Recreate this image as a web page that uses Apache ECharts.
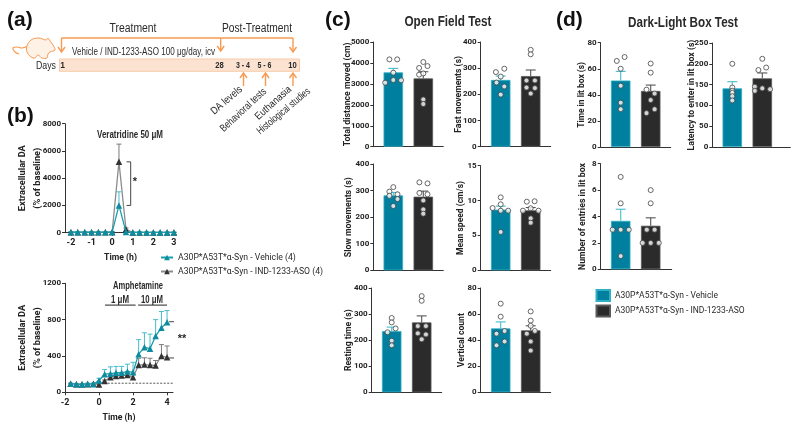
<!DOCTYPE html>
<html><head><meta charset="utf-8">
<style>html,body{margin:0;padding:0;background:#fff}#c{width:792px;height:425px}</style>
<script src="https://cdn.jsdelivr.net/npm/echarts@6/dist/echarts.min.js"></script>
</head><body><div id="c"></div>
<script>
// ---------- data ----------
const veraTime = [-2,-1.67,-1.33,-1,-0.67,-0.33,0,0.33,0.67,1,1.33,1.67,2,2.33,2.67,3];
const veraVehicle = [40,40,40,40,40,40,40,2000,60,20,40,20,20,20,20,20];
const veraVehicleErr = [30,30,30,30,30,30,30,1000,40,20,30,20,20,20,20,20];
const veraASO = [40,40,40,40,40,40,50,5200,250,20,20,20,20,20,20,20];
const veraASOErr = [30,30,30,30,30,30,30,1300,100,20,20,20,20,20,20,20];

const amphTime = [-1.67,-1.33,-1,-0.67,-0.33,0,0.33,0.67,1,1.33,1.67,2,2.33,2.67,3,3.33,3.67,4];
const amphVehicle = [95,90,85,95,90,130,200,205,215,215,230,220,420,495,480,620,710,770];
const amphVehicleTop = [100,95,95,100,100,155,250,280,285,285,310,330,580,655,640,800,890,900];
const amphASO = [95,90,90,90,95,85,125,165,180,185,190,165,300,305,300,295,400,385];
const amphASOTop = [100,95,95,95,100,100,135,190,200,210,225,200,375,380,375,350,525,510];

const barNames = ["Total distance moved (cm)","Fast movements (s)","Slow movements (s)","Mean speed (cm/s)","Resting time (s)","Vertical count","Time in lit box (s)","Latency to enter in lit box (s)","Number of entries in lit box"];
const barMaxima = [5000,400,400,15,400,80,80,250,8];
const barIntervals = [1000,100,100,5,100,20,20,50,2];
const vehicleMeans = [3550,255,282,8.7,235,49,51,141,3.67];
const vehicleErrTops = [3740,270,293,9.2,250,54,58,157,4.55];
const asoMeans = [3260,270,277,8.6,268,47.5,43,165,3.3];
const asoErrTops = [3580,293,298,9.0,293,51,47.5,178,3.9];
const vehicleDots = [
 [4170,4170,3535,3057,3185,3170],
 [298,285,268,245,230,199],
 [313,296,286,280,268,242],
 [10.46,9.46,8.93,8.55,8.55,5.5],
 [285,268,245,230,198,180],
 [68,58,45,47,36,39],
 [69,66,60,47,34,29],
 [200,143,135,130,122,112],
 [7,5,3,3,3,1]];
const asoDots = [
 [4045,3760,3850,3440,3500,2260,2040],
 [370,353,253,253,226,224,203],
 [331,327,291,286,263,229,213],
 [9.84,9.9,8.9,8.55,8.55,7.45,6.83],
 [369,351,254,254,226,222,203],
 [62,55,51,45,47,39,32],
 [64,57,44,41,36,29,26],
 [212,185,191,145,135,141,139],
 [6,5,3,3,2,2,2]];
// horizontal scatter of the dots, in units of the spacing between the two bars
const vehicleJitter = [
 [-.13,.13,0,-.27,0,.26],
 [.12,-.16,0,-.14,.12,0],
 [0,-.13,.14,-.13,.14,0],
 [0,0,-.27,0,.25,0],
 [0,0,.13,-.14,0,0],
 [0,0,-.14,.13,-.14,.13],
 [.13,-.13,0,0,0,0],
 [0,0,0,0,0,0],
 [0,0,-.27,0,.27,0]];
const asoJitter = [
 [0,-.14,.14,-.14,0,0,0],
 [0,0,-.14,.14,-.14,.14,0],
 [-.13,.14,-.13,.14,0,0,0],
 [-.13,.13,0,-.26,.26,0,0],
 [0,0,-.13,.14,-.13,.14,0],
 [0,0,0,-.13,.14,0,0],
 [0,0,-.14,.13,0,.13,-.14],
 [0,-.13,.13,-.25,-.25,0,.26],
 [0,0,-.13,.13,-.27,0,.27]];
const legendLine = ["A30P*A53T*α-Syn - Vehicle (4)","A30P*A53T*α-Syn - IND-1233-ASO (4)"];
const legendBar = ["A30P*A53T*α-Syn - Vehicle","A30P*A53T*α-Syn - IND-1233-ASO"];

// ---------- layout / style ----------
const SANS = '"Liberation Sans",Arial,sans-serif';
const AXISF = 'Roboto,"Liberation Sans",sans-serif';
const ORANGE = '#F79A52', TEAL='#007F9E', DARK='#2B2B2B', LINE_TEAL='#17A0AE', TEXT='#2a2a2a';
const barGrids = [
 {l:373.3,t:42,w:70,h:104.7,gap:21,len:104},{l:480.7,t:42,w:70,h:104.7,gap:17,len:77},
 {l:373.3,t:164,w:70,h:106.3,gap:20,len:80},{l:480.7,t:165.7,w:70,h:104.6,gap:15,len:74},
 {l:371.7,t:288,w:70,h:104.3,gap:18,len:62},{l:480.7,t:288,w:70,h:104.3,gap:14,len:54},
 {l:600.7,t:42.7,w:70,h:104.3,gap:15,len:66},{l:712.3,t:43,w:78,h:104,gap:16,len:111},
 {l:600.7,t:163.7,w:71,h:105.6,gap:13,len:107}];

const measureCtx=document.createElement('canvas').getContext('2d');
function textW(s,font){measureCtx.font=font;return measureCtx.measureText(s).width;}
function fitPx(s,target,weight,fam){return +(10*target/textW(s,`${weight} 10px ${fam}`)).toFixed(2);}

const grids=[], xAxes=[], yAxes=[], series=[];
const axisBase = {axisLine:{show:true,onZero:false,lineStyle:{color:'#333',width:1}},axisTick:{show:true,length:3,lineStyle:{color:'#333'}},splitLine:{show:false}};
const tickLabel = {color:'#222',fontFamily:AXISF,fontWeight:'bold',fontSize:8,margin:4,formatter:v=>String(v)};

function errSeries(i,xs,ys,tops,color,cap,w){
  return {type:'custom',xAxisIndex:i,yAxisIndex:i,silent:true,z:3,clip:false,
    data:xs.map((x,k)=>[x,ys[k],tops[k]]),
    renderItem(p,api){
      const a=api.coord([api.value(0),api.value(1)]),b=api.coord([api.value(0),api.value(2)]);
      const st={stroke:color,lineWidth:w||1,fill:null};
      return {type:'group',children:[
        {type:'line',shape:{x1:a[0],y1:a[1],x2:b[0],y2:b[1]},style:st},
        {type:'line',shape:{x1:b[0]-cap/2,y1:b[1],x2:b[0]+cap/2,y2:b[1]},style:st}]};
    }};
}
function poly(i,pts,color,dash,w){
  return {type:'line',xAxisIndex:i,yAxisIndex:i,data:pts,showSymbol:false,symbol:'none',silent:true,clip:false,
    lineStyle:{color:color||'#333',width:w||1,type:dash?[2,1.5]:'solid'},z:2};
}
function timeChart(g,x,y,tickX,yName,gap){
  const i=grids.length;
  grids.push({left:g.l,top:g.t,width:g.w,height:g.h,containLabel:false});
  xAxes.push(Object.assign({},axisBase,{type:'value',gridIndex:i,min:x.min,max:x.max,
    interval:tickX,name:'Time (h)',nameLocation:'middle',nameGap:x.gap,nameMoveOverlap:false,
    nameTextStyle:{color:'#222',fontFamily:AXISF,fontWeight:'bold',fontSize:fitPx('Time (h)',33,'bold',AXISF)},
    axisTick:{show:true,length:3,lineStyle:{color:'#333'}},
    axisLabel:Object.assign({},tickLabel,{fontSize:9,margin:6})}));
  yAxes.push(Object.assign({},axisBase,{type:'value',gridIndex:i,min:0,max:y.max,interval:y.step,name:yName,
    nameLocation:'middle',nameRotate:90,nameGap:gap,nameMoveOverlap:false,
    nameTextStyle:{color:'#222',fontFamily:AXISF,fontWeight:'bold',fontSize:fitPx('Extracellular DA',66,'bold',AXISF),lineHeight:15},
    axisLabel:Object.assign({},tickLabel)}));
  return i;
}
function lineS(i,name,xs,ys,color,mark,z){
  return {type:'line',name,xAxisIndex:i,yAxisIndex:i,data:xs.map((x,k)=>[x,ys[k]]),symbol:'triangle',symbolSize:6.5,showAllSymbol:true,
    lineStyle:{color,width:1.3},itemStyle:{color:mark},z:z,clip:false,silent:true};
}

// top time course
const t0=timeChart({l:65,t:123.7,w:111,h:109},{min:-2.29,max:3.1,gap:21},{max:8000,step:2000},1,'Extracellular DA\n(% of baseline)',20);
xAxes[t0].axisTick.customValues=[-2,-1,0,1,2,3];
xAxes[t0].axisLabel.customValues=[-2,-1,0,1,2,3];
series.push(errSeries(t0,veraTime,veraASO,veraASO.map((v,k)=>v+veraASOErr[k]),'#7a7a7a',5));
series.push(errSeries(t0,veraTime,veraVehicle,veraVehicle.map((v,k)=>v+veraVehicleErr[k]),'#45BCCB',5));
series.push(lineS(t0,legendLine[1],veraTime,veraASO,'#8c8c8c','#333',4));
series.push(lineS(t0,legendLine[0],veraTime,veraVehicle,LINE_TEAL,'#0F8BA0',5));
series.push(poly(t0,[[0.7,5200],[0.9,5200],[0.9,2000],[0.7,2000]],'#444'));

// bottom time course
const t1=timeChart({l:65,t:283.3,w:108,h:109},{min:-2,max:4.35,gap:21},{max:1200,step:400},2,'Extracellular DA\n(% of baseline)',20);
series.push(errSeries(t1,amphTime,amphASO,amphASOTop,'#7a7a7a',5));
series.push(errSeries(t1,amphTime,amphVehicle,amphVehicleTop,'#45BCCB',5));
series.push(poly(t1,[[0.1,100],[4.35,100]],'#555',true));
series.push(lineS(t1,'',amphTime,amphASO,'#8c8c8c','#333',4));
series.push(lineS(t1,'',amphTime,amphVehicle,LINE_TEAL,'#0F8BA0',5));
series.push(poly(t1,[[0.35,960],[2.15,960]],'#222'));
series.push(poly(t1,[[2.3,960],[4,960]],'#222'));
series.push(poly(t1,[[4.12,777],[4.65,777],[4.65,378],[4.12,378]],'#444'));

// bar panels
barNames.forEach((name,b)=>{
  const g=barGrids[b], i=grids.length;
  grids.push({left:g.l,top:g.t,width:g.w,height:g.h,containLabel:false});
  const sp=30, c0=20/sp;
  xAxes.push({type:'value',gridIndex:i,min:1-c0,max:1-c0+g.w/sp,show:true,
    axisLine:{show:true,onZero:false,lineStyle:{color:'#333'}},axisTick:{show:false},axisLabel:{show:false},splitLine:{show:false}});
  yAxes.push(Object.assign({},axisBase,{type:'value',gridIndex:i,min:0,max:barMaxima[b],interval:barIntervals[b],name,
    nameLocation:'middle',nameRotate:90,nameGap:g.gap,nameMoveOverlap:false,
    nameTextStyle:{color:'#222',fontFamily:AXISF,fontWeight:'bold',fontSize:fitPx(name,g.len,'bold',AXISF)},
    axisLabel:Object.assign({},tickLabel)}));
  const barS=(nm,x,v,col,edge)=>({type:'bar',name:nm,xAxisIndex:i,yAxisIndex:i,data:[[x,v]],barWidth:19.5,barGap:'-100%',silent:true,z:2,
      itemStyle:{color:col,borderColor:edge,borderWidth:.8}});
  series.push(barS(b===0?legendBar[0]:'v'+b,1,vehicleMeans[b],TEAL,'#2FB0C4'));
  series.push(barS(b===0?legendBar[1]:'a'+b,2,asoMeans[b],DARK,'#5a5a5a'));
  series.push(errSeries(i,[1],[vehicleMeans[b]],[vehicleErrTops[b]],'#45BCCB',10,1.1));
  series.push(errSeries(i,[2],[asoMeans[b]],[asoErrTops[b]],'#555',10,1.1));
  const dot=(vals,jit,c)=>({type:'scatter',xAxisIndex:i,yAxisIndex:i,silent:true,z:5,symbolSize:5,clip:false,
    data:vals.map((v,k)=>[c+jit[k],v]),itemStyle:{color:'#fff',borderColor:'#444',borderWidth:1}});
  series.push(dot(vehicleDots[b],vehicleJitter[b],1));
  series.push(dot(asoDots[b],asoJitter[b],2));
});

// ---------- annotations ----------
const g=[];
function T(x,y,text,o){o=o||{};
  const font=`${o.b?'bold ':''}${o.s||11}px ${o.f||SANS}`;
  const sx=o.w?o.w/textW(text,font):1;
  g.push({type:'text',x,y,rotation:(o.rot||0)*Math.PI/180,scaleX:sx,z:20,silent:true,
    style:{text,fill:o.c||TEXT,font,textAlign:o.a||'center',textVerticalAlign:'middle'}});
}
function L(pts,c,w){g.push({type:'polyline',shape:{points:pts},silent:true,z:15,style:{stroke:c||ORANGE,lineWidth:w||1.4,fill:null}});}
function arrowD(x,y0,y1){L([[x,y0],[x,y1]]);L([[x-3.5,y1-5],[x,y1],[x+3.5,y1-5]]);}
function arrowU(x,y0,y1){L([[x,y0],[x,y1]]);L([[x-3.5,y1+5],[x,y1],[x+3.5,y1+5]]);}

T(7,20,'(a)',{a:'left',b:1,s:21,c:'#111'});
T(7,116,'(b)',{a:'left',b:1,s:21,c:'#111'});
T(325,20,'(c)',{a:'left',b:1,s:21,c:'#111'});
T(556,20,'(d)',{a:'left',b:1,s:21,c:'#111'});
T(448,22,'Open Field Test',{b:1,s:14,w:87});
T(683,23,'Dark-Light Box Test',{b:1,s:14,w:110});

// timeline
g.push({type:'rect',shape:{x:59.5,y:59,width:240,height:12.3},silent:true,z:10,style:{fill:'#FCE3D1',stroke:'#F8CBA8',lineWidth:1}});
L([[61.5,38],[293,38]]);
arrowD(61.5,38,52);arrowD(220.7,38,51);arrowD(293,38,52);
arrowU(243.5,86,73);arrowU(265.5,86,73);arrowU(293,86,73);
T(133,29,'Treatment',{s:12,w:47});T(257,29,'Post-Treatment',{s:12,w:70});
T(72,52,'Vehicle / IND-1233-ASO 100 μg/day, icv',{a:'left',s:10.5,w:143});
T(56,65.5,'Days',{a:'right',s:11.5,w:20});
T(62.5,65.5,'1',{b:1,s:8.5});T(219.5,65.5,'28',{b:1,s:8.5,w:8.5});T(243,65.5,'3 - 4',{b:1,s:8.5,w:14});T(264.5,65.5,'5 - 6',{b:1,s:8.5,w:14});T(292.5,65.5,'10',{b:1,s:8.5,w:8.5});
T(241,88,'DA levels',{a:'right',s:10.5,rot:41,w:38});
T(265,90,'Behavioral tests',{a:'right',s:10.5,rot:43,w:59});
T(290,88,'Euthanasia',{a:'right',s:10.5,rot:42,w:45});
T(309,90,'Histological studies',{a:'right',s:10.5,rot:40,w:66});
// rat
g.push({type:'polygon',silent:true,z:12,shape:{smooth:0.35,points:[[27,46],[31,40],[39,38],[46,40],[48,38],[50,41],[53,45],[55,50],[50,52],[48,54],[47,58],[42,58],[38,55],[35,58],[31,57],[27,52]]},
  style:{fill:'#FEF1E6',stroke:ORANGE,lineWidth:1}});
g.push({type:'polyline',silent:true,z:11,shape:{smooth:0.4,points:[[28,46],[22,48],[17,47],[13,48],[15,52],[19,54]]},style:{fill:null,stroke:ORANGE,lineWidth:1.1}});

// b annotations
T(130,135.5,'Veratridine 50 μM',{b:1,s:10.5,w:66});
T(135,182,'*',{b:1,s:11});
T(138,286,'Amphetamine',{b:1,s:10.5,w:50});
T(120,300,'1 μM',{b:1,s:10.5,w:18});T(152,300,'10 μM',{b:1,s:10.5,w:22});
T(182,339,'**',{b:1,s:11});

// ---------- chart ----------
const chart=echarts.init(document.getElementById('c'),null,{renderer:'canvas'});
chart.setOption({animation:false,backgroundColor:'#fff',
  grid:grids,xAxis:xAxes,yAxis:yAxes,series,
  legend:[
    {data:legendLine,left:155,top:248,orient:'vertical',itemWidth:12,itemHeight:7,itemGap:5,selectedMode:false,
      textStyle:{color:TEXT,fontFamily:AXISF,fontSize:fitPx(legendLine[0],118,'normal',AXISF)}},
    {data:legendBar.map(name=>({name,icon:'rect'})),left:590.5,top:284,orient:'vertical',itemWidth:13.5,itemHeight:11,itemGap:2.5,selectedMode:false,
      textStyle:{color:TEXT,fontFamily:AXISF,fontSize:fitPx(legendBar[0],103,'normal',AXISF)}}
  ],
  graphic:{elements:g}});
</script></body></html>
